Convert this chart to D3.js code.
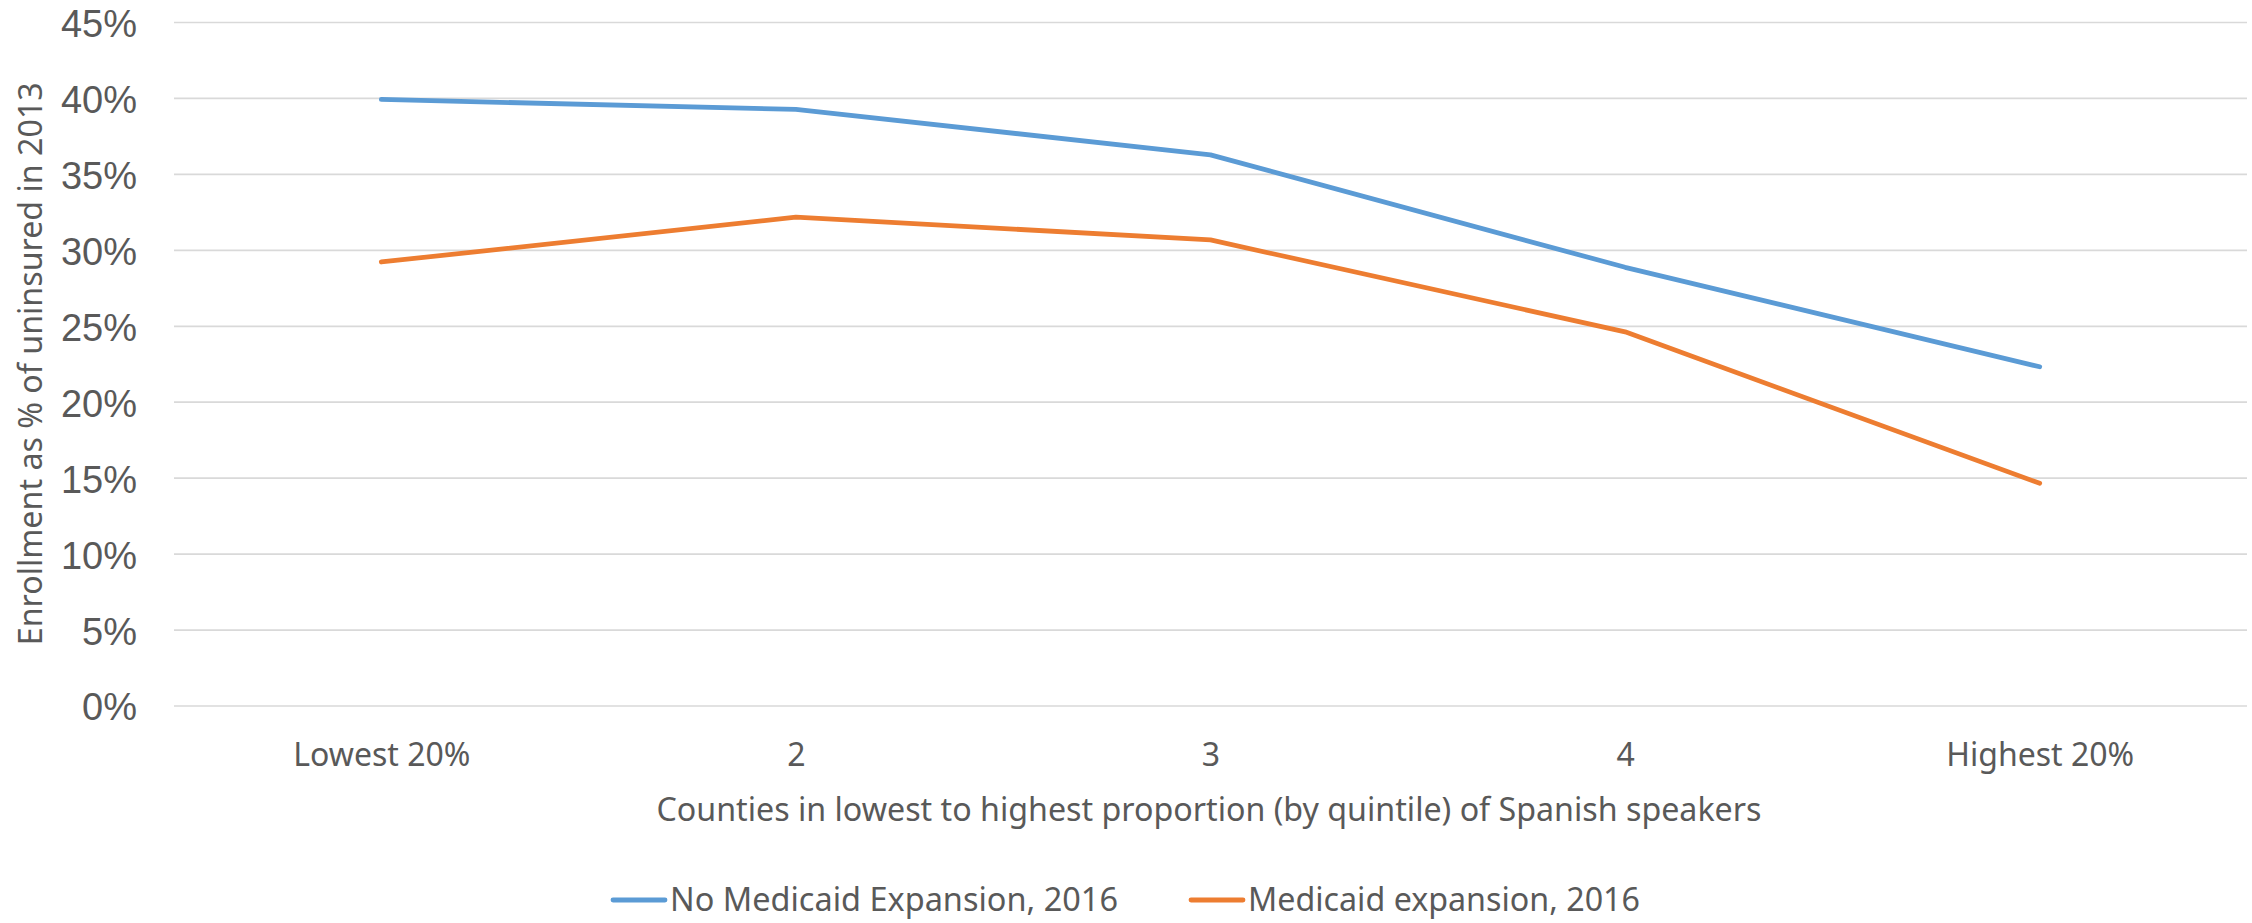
<!DOCTYPE html>
<html>
<head>
<meta charset="utf-8">
<script src="https://cdn.jsdelivr.net/npm/d3@7"></script>
<style>
  html, body { margin: 0; padding: 0; background: #ffffff; }
  svg { display: block; }
</style>
</head>
<body>
<svg id="chart" width="2252" height="923"></svg>
<script>
// Quintile categories (counties ranked by share of Spanish speakers)
const categories = ["Lowest 20%", "2", "3", "4", "Highest 20%"];

// Enrollment as a share of the 2013 uninsured population
const noExpansion2016 = [0.399, 0.3925, 0.3625, 0.2885, 0.223];
const expansion2016   = [0.292, 0.3215, 0.3065, 0.246, 0.1463];

const seriesNames  = ["No Medicaid Expansion, 2016", "Medicaid expansion, 2016"];
const yTickValues  = [0, 0.05, 0.10, 0.15, 0.20, 0.25, 0.30, 0.35, 0.40, 0.45];

const xTitle = "Counties in lowest to highest proportion (by quintile) of Spanish speakers";
const yTitle = "Enrollment as % of uninsured in 2013";

// Layout
const plot = { left: 174, right: 2247, top: 22, bottom: 705.5 };
const colors = ["#5B9BD5", "#ED7D31"];
const textColor = "#595959";
const labelFont = "'Noto Sans', 'Open Sans', sans-serif";

const svg = d3.select("#chart");

const x = d3.scalePoint()
  .domain(categories)
  .range([plot.left, plot.right])
  .padding(0.5);

const y = d3.scaleLinear()
  .domain([0, 0.45])
  .range([plot.bottom, plot.top]);

// Horizontal gridlines
const yAxis = d3.axisLeft(y)
  .tickValues(yTickValues)
  .tickSize(-(plot.right - plot.left))
  .tickPadding(37)
  .tickFormat(d3.format(".0%"));

const gy = svg.append("g")
  .attr("transform", `translate(${plot.left},0)`)
  .call(yAxis);
gy.select(".domain").remove();
gy.selectAll(".tick line")
  .attr("stroke", "#D9D9D9")
  .attr("stroke-width", 1.7);
gy.selectAll(".tick text")
  .attr("fill", textColor)
  .attr("font-family", "'Liberation Sans', Arial, sans-serif")
  .attr("font-size", 38)
  .attr("dy", "0.38em");

// Category axis labels
const xAxis = d3.axisBottom(x).tickSize(0).tickPadding(0);
const gx = svg.append("g")
  .attr("transform", `translate(0,${plot.bottom})`)
  .call(xAxis);
gx.select(".domain").remove();
gx.selectAll(".tick text")
  .attr("fill", textColor)
  .attr("font-family", labelFont)
  .attr("font-size", 32)
  .attr("dy", null)
  .attr("y", 60);

// Series lines
const line = d3.line()
  .x((d, i) => x(categories[i]))
  .y(d => y(d));

[noExpansion2016, expansion2016].forEach((vals, i) => {
  svg.append("path")
    .datum(vals)
    .attr("d", line)
    .attr("fill", "none")
    .attr("stroke", colors[i])
    .attr("stroke-width", 4.8)
    .attr("stroke-linecap", "round")
    .attr("stroke-linejoin", "round");
});

// Axis titles
svg.append("text")
  .attr("x", 1209)
  .attr("y", 821)
  .attr("text-anchor", "middle")
  .attr("fill", textColor)
  .attr("font-family", labelFont)
  .attr("font-size", 33)
  .attr("textLength", 1105)
  .attr("lengthAdjust", "spacingAndGlyphs")
  .text(xTitle);

svg.append("text")
  .attr("transform", `translate(42,${(plot.top + plot.bottom) / 2}) rotate(-90)`)
  .attr("text-anchor", "middle")
  .attr("fill", textColor)
  .attr("font-family", labelFont)
  .attr("font-size", 33)
  .attr("textLength", 563)
  .attr("lengthAdjust", "spacingAndGlyphs")
  .text(yTitle);

// Legend
const legendItems = [
  { x: 613, width: 448 },
  { x: 1191, width: 392 }
];
const legendY = 900;
legendItems.forEach((item, i) => {
  const g = svg.append("g").attr("transform", `translate(${item.x},${legendY})`);
  g.append("line")
    .attr("x1", 0).attr("x2", 52)
    .attr("y1", 0).attr("y2", 0)
    .attr("stroke", colors[i])
    .attr("stroke-width", 4.8)
    .attr("stroke-linecap", "round");
  g.append("text")
    .attr("x", 57)
    .attr("y", 11)
    .attr("fill", textColor)
    .attr("font-family", labelFont)
    .attr("font-size", 33)
    .attr("textLength", item.width)
    .attr("lengthAdjust", "spacingAndGlyphs")
    .text(seriesNames[i]);
});
</script>
</body>
</html>
